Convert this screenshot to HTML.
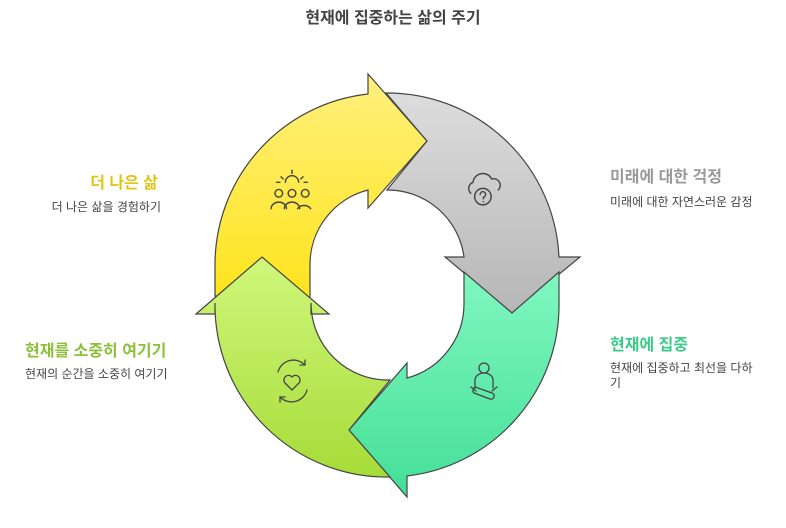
<!DOCTYPE html>
<html><head><meta charset="utf-8"><style>
html,body{margin:0;padding:0;background:#fff;}
body{width:786px;height:528px;position:relative;overflow:hidden;font-family:"Liberation Sans","Noto Sans CJK KR",sans-serif;}
.t{position:absolute;white-space:nowrap;}
.h{font-weight:bold;font-size:16px;}
.d{font-size:12px;color:#444;line-height:15px;}
</style></head><body>
<svg width="786" height="528" style="position:absolute;left:0;top:0">
<defs>
<linearGradient id="gy" x1="0" y1="0" x2="0" y2="1"><stop offset="0" stop-color="#fff07e"/><stop offset="1" stop-color="#ffe41c"/></linearGradient>
<linearGradient id="gg" x1="0" y1="0" x2="0" y2="1"><stop offset="0" stop-color="#dddddd"/><stop offset="1" stop-color="#b6b6b6"/></linearGradient>
<linearGradient id="gt" x1="0" y1="0" x2="0" y2="1"><stop offset="0" stop-color="#80f7c0"/><stop offset="1" stop-color="#44df98"/></linearGradient>
<linearGradient id="gl" x1="0" y1="0" x2="0" y2="1"><stop offset="0" stop-color="#d0f77c"/><stop offset="1" stop-color="#a6dc38"/></linearGradient>
</defs>
<g stroke="#444" stroke-width="1.2" stroke-linejoin="miter">
<path fill="url(#gy)" d="M215,296 L215,265 A172,172 0 0 1 368,94 L368,74 L427,141 L368,208 L368,190 A77,77 0 0 0 310,265 L310,298 Z"/>
<path fill="url(#gg)" d="M386,93 A172,172 0 0 1 559,257 L580,257 L512,313 L445,257 L464,257 A77,77 0 0 0 387,190 L427,141 Z"/>
<path fill="url(#gt)" d="M559,272 L559,303 A172,172 0 0 1 407,476 L407,497 L349,430 L407,363 L407,378 A77,77 0 0 0 464,303 L464,272 L512,313 Z"/>
<path fill="url(#gl)" d="M196,314 L262,257 L329,314 L311,314 L311,303 A77,77 0 0 0 390,380 L349,430 L390,477 A172,172 0 0 1 215,303 L215,314 Z"/>
</g>
<g fill="none" stroke="#444" stroke-width="1.3" stroke-linecap="round">
<g transform="translate(292,190) scale(1.1) translate(-292,-190)">
<path d="M286,183 A6,6 0 0 1 298,183 M292,172 v3 M282,178 l2,2 M302,178 l-2,2 M278,183 h3 M303,183 h3"/>
<circle cx="280" cy="193" r="3.5"/><circle cx="292" cy="193" r="3.5"/><circle cx="304" cy="193" r="3.5"/>
<path d="M273,207 a7,6 0 0 1 14,0 M285,207 a7,6 0 0 1 14,0 M297,207 a7,6 0 0 1 12,0"/>
</g>
<g transform="translate(484,190) scale(1.1) translate(-484,-190)">
<path d="M472,193 a6,6 0 0 1 2,-10 a9,9 0 0 1 17,-3 a6,6 0 0 1 6,10"/>
<circle cx="483" cy="196" r="7.5"/>
<path d="M480.5,194 a2.5,2.5 0 1 1 3,2.5 v1.5 M483.5,200.5 v0.3"/>
</g>
<!-- meditation -->
<circle cx="484" cy="368" r="5"/>
<path d="M475,388 v-8 a9,7 0 0 1 18,0 v8 M471,387 l5,4 M497,387 l-5,4 M474,393 l16,6 a3,3 0 0 0 2,-6 l-14,-5 a3,3 0 0 0 -4,5z"/>
<!-- heart cycle -->
<path d="M278,372 a16,16 0 0 1 27,-7 M307,390 a16,16 0 0 1 -27,7"/>
<path d="M305,365 l0,-5 M305,365 l-5,0 M280,397 l0,5 M280,397 l5,0"/>
<path d="M292,390 l-7,-7 a4.5,4.5 0 0 1 7,-6 a4.5,4.5 0 0 1 7,6 z"/>
</g>
</svg>
<div class="t" style="left:0;width:786px;top:4px;text-align:center;font-weight:bold;font-size:16px;color:#444">현재에 집중하는 삶의 주기</div>
<div class="t h" style="right:628px;top:169px;color:#e2c417">더 나은 삶</div>
<div class="t d" style="right:625px;top:200px">더 나은 삶을 경험하기</div>
<div class="t h" style="left:25px;top:337px;color:#8cc03a">현재를 소중히 여기기</div>
<div class="t d" style="left:25px;top:367px">현재의 순간을 소중히 여기기</div>
<div class="t h" style="left:610px;top:163px;color:#999">미래에 대한 걱정</div>
<div class="t d" style="left:610px;top:195px">미래에 대한 자연스러운 감정</div>
<div class="t h" style="left:610px;top:331px;color:#3ccc88">현재에 집중</div>
<div class="t d" style="left:610px;top:361px">현재에 집중하고 최선을 다하<br>기</div>
</body></html>
